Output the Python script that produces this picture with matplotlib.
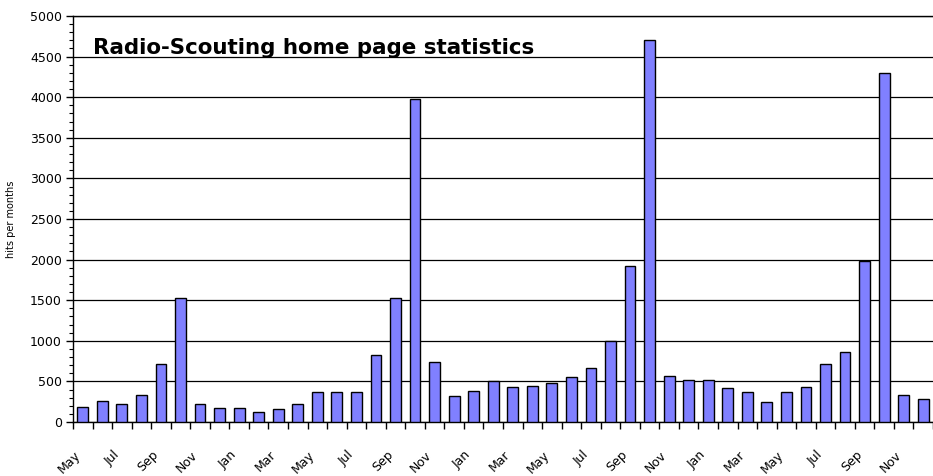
import matplotlib
matplotlib.use("Agg")
import matplotlib.pyplot as plt
import numpy as np
from matplotlib.ticker import MultipleLocator

# Monthly hits, May of year 1 through December of year 4
MONTHS = ["May", "Jun", "Jul", "Aug", "Sep", "Oct", "Nov", "Dec",
          "Jan", "Feb", "Mar", "Apr", "May", "Jun", "Jul", "Aug", "Sep", "Oct", "Nov", "Dec",
          "Jan", "Feb", "Mar", "Apr", "May", "Jun", "Jul", "Aug", "Sep", "Oct", "Nov", "Dec",
          "Jan", "Feb", "Mar", "Apr", "May", "Jun", "Jul", "Aug", "Sep", "Oct", "Nov", "Dec"]
HITS = [190, 260, 225, 330, 710, 1530, 225, 175,
        175, 120, 160, 225, 365, 365, 365, 825, 1530, 3980, 745, 325,
        380, 505, 430, 445, 480, 550, 670, 1000, 1925, 4700, 570, 517,
        517, 415, 365, 242, 365, 430, 710, 862, 1983, 4294, 329, 279]

TITLE = "Radio-Scouting home page statistics"
Y_LABEL = "hits per months"

BAR_COLOR = "#8080ff"

fig = plt.figure(figsize=(9.33, 4.76), dpi=100, facecolor="white")
ax = fig.add_axes([73 / 933, 1 - 422 / 476, 1 - 73 / 933, (422 - 16) / 476])

x = np.arange(len(HITS))
ax.bar(x, HITS, width=0.55, color=BAR_COLOR, edgecolor="black", linewidth=1.0, zorder=3)

ax.set_xlim(-0.5, len(HITS) - 0.5)
ax.set_ylim(0, 5000)

ax.yaxis.set_major_locator(MultipleLocator(500))
ax.yaxis.set_minor_locator(MultipleLocator(100))
ax.grid(axis="y", which="major", color="black", linewidth=0.9, zorder=1)
ax.tick_params(axis="y", which="major", length=5, width=1, labelsize=9, pad=3)
ax.tick_params(axis="y", which="minor", length=3, width=0.8)

# ticks on month boundaries, labels at bar centers (every other month)
ax.set_xticks(np.arange(len(HITS) + 1) - 0.5)
ax.set_xticklabels([])
ax.set_xticks(x, minor=True)
ax.set_xticklabels([m if i % 2 == 0 else "" for i, m in enumerate(MONTHS)],
                   minor=True, rotation=45, ha="right", va="top", fontsize=9)
ax.tick_params(axis="x", which="major", length=5, width=1)
ax.tick_params(axis="x", which="minor", length=0, pad=19)

for side in ("left", "bottom", "top"):
    ax.spines[side].set_color("black")
    ax.spines[side].set_linewidth(1.0)
ax.spines["right"].set_visible(False)

ax.set_ylabel(Y_LABEL, fontsize=7)
ax.yaxis.set_label_coords(-0.066, 0.5)

ax.text(0.023, 0.92, TITLE, transform=ax.transAxes, fontsize=15.4, weight="bold",
        ha="left", va="center", zorder=4)

fig.savefig("out.png", dpi=100)
